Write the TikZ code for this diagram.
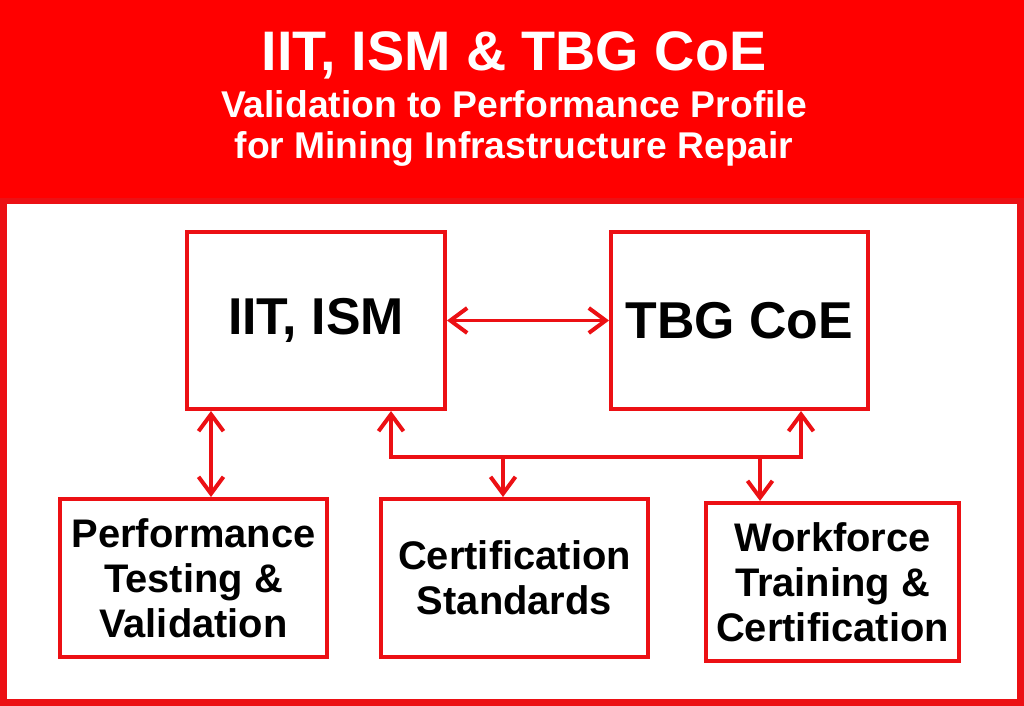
\documentclass[tikz,border=0pt]{standalone}
\usepackage{fontspec}
\setmainfont{Liberation Sans}
\usetikzlibrary{arrows.meta}

\definecolor{hdrred}{RGB}{255,0,0}
\definecolor{lnred}{RGB}{236,16,20}

\begin{document}
\begin{tikzpicture}[x=0.02cm, y=-0.02cm,
		>={Straight Barb[length=9.6pt, width=14.2pt]},
		bigbox/.style={draw=lnred, line width=2.27pt, fill=white, inner sep=2pt, minimum height=3.54cm,
			font=\fontsize{29.5}{34}\selectfont\bfseries},
		smallbox/.style={draw=lnred, line width=2.27pt, fill=white, inner sep=2pt, minimum height=3.16cm,
			align=center, font=\fontsize{22.7}{25.5}\selectfont\bfseries},
		hdrtext/.style={anchor=base, text=white, inner sep=0pt},
		link/.style={draw=lnred, line width=2.27pt, <->},
		feed/.style={draw=lnred, line width=2.27pt, ->}]
			\useasboundingbox (0,0) rectangle (1024,706);

			% header and frame
			\fill[hdrred] (0,0) rectangle (1024,200);
			\draw[lnred, line width=3.9pt] (3.5,201) rectangle (1020.5,702.5);

			\draw (514,71) 		node[hdrtext, font=\fontsize{31.7}{36}\selectfont\bfseries] 	(title) 	{IIT, ISM \& TBG CoE};
			\draw (514,117) 	node[hdrtext, font=\fontsize{21.2}{24}\selectfont\bfseries] 	(sub1) 		{Validation to Performance Profile};
			\draw (514,158) 	node[hdrtext, font=\fontsize{21.2}{24}\selectfont\bfseries] 	(sub2) 		{for Mining Infrastructure Repair};

			% partners
			\draw (316,320.5) 	node[bigbox, minimum width=5.16cm] 	(iit) 	{IIT, ISM};
			\draw (739.5,320.5) node[bigbox, minimum width=5.14cm] 	(tbg) 	{TBG CoE};

			% outputs
			\draw (193.5,578) 	node[smallbox, minimum width=5.34cm] 	(perf) 	{Performance\\Testing \&\\Validation};
			\draw (514.5,578) 	node[smallbox, minimum width=5.34cm] 	(cert) 	{Certification\\Standards};
			\draw (832.5,582) 	node[smallbox, minimum width=5.06cm] 	(work) 	{Workforce\\Training \&\\Certification};

			\coordinate (busl) 		at (391,457);
			\coordinate (busr) 		at (801,457);
			\coordinate (certjoin) 	at (503,457);
			\coordinate (workjoin) 	at (760,457);
			\coordinate (perfjoin) 	at (211,457);

			\draw[link] (iit) -- (tbg);
			\draw[link] (iit.south -| perfjoin) -- (perf.north -| perfjoin);
			\draw[link] (iit.south -| busl) -- (busl) -- (busr) -- (tbg.south -| busr);
			\draw[feed] (certjoin) -- (cert.north -| certjoin);
			\draw[feed] (workjoin) -- (work.north -| workjoin);
		\end{tikzpicture}
\end{document}
